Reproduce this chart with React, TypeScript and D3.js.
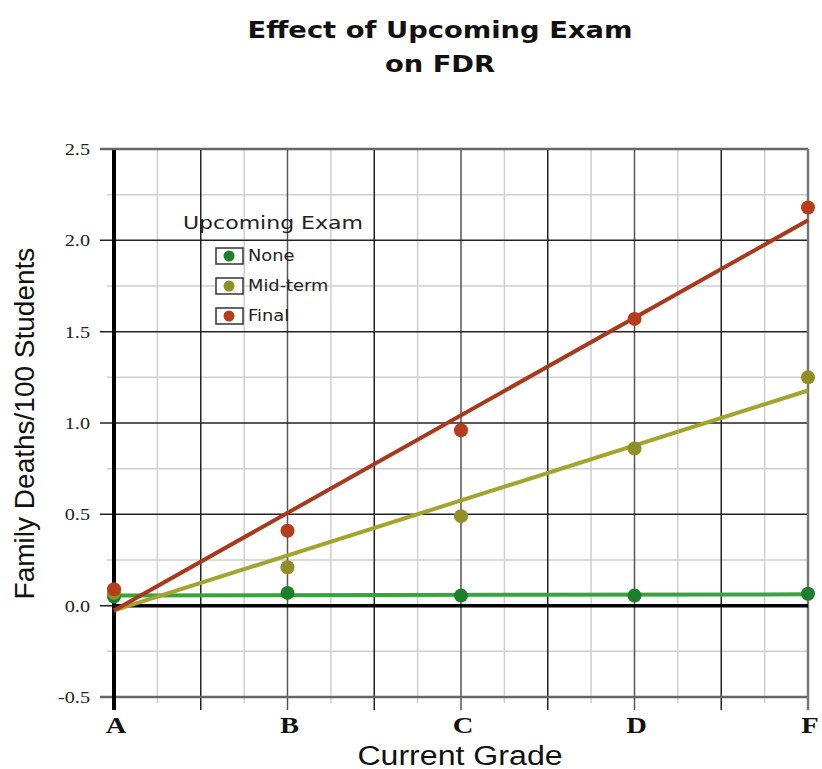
import React, { useEffect, useRef } from "react";
import * as d3 from "d3";

const grades = ["A", "B", "C", "D", "F"];
const yTicks = [-0.5, 0.0, 0.5, 1.0, 1.5, 2.0, 2.5];

const noneValues = [0.05, 0.07, 0.055, 0.055, 0.065];
const midtermValues = [0.07, 0.21, 0.49, 0.86, 1.25];
const finalValues = [0.09, 0.41, 0.96, 1.57, 2.18];

const seriesNames = ["None", "Mid-term", "Final"];

interface Series {
  name: string;
  values: number[];
  dot: string;
  line: string;
}

// least-squares fit, like the trend lines in the original
function fitLine(values: number[]) {
  const xs = values.map((_, i) => i);
  const mx = d3.mean(xs) as number;
  const my = d3.mean(values) as number;
  const num = d3.sum(xs, (x, i) => (x - mx) * (values[i] - my));
  const den = d3.sum(xs, x => (x - mx) * (x - mx));
  const slope = num / den;
  return { slope, intercept: my - slope * mx };
}

// the original's text is a bit wider than our fonts
const STRETCH = 1.19;

export default function App() {
  const svgRef = useRef<SVGSVGElement>(null);

  useEffect(() => {
    if (!svgRef.current) return;
    const width = 822;
    const height = 769;
    const margin = { top: 149, right: 14, bottom: 72, left: 114 };

    const svg = d3.select(svgRef.current);
    svg.selectAll("*").remove();

    const series: Series[] = [
      { name: seriesNames[0], values: noneValues, dot: "#1b7f2b", line: "#36a53c" },
      { name: seriesNames[1], values: midtermValues, dot: "#8f8f24", line: "#a3a32e" },
      { name: seriesNames[2], values: finalValues, dot: "#b53d1c", line: "#a8391c" },
    ];

    const x = d3.scaleLinear()
      .domain([0, grades.length - 1])
      .range([margin.left, width - margin.right]);
    const y = d3.scaleLinear()
      .domain([-0.5, 2.5])
      .range([height - margin.bottom, margin.top]);

    const x0 = x(0), x1 = x(grades.length - 1);
    const y0 = y(-0.5), y1 = y(2.5);

    const grid = svg.append("g");

    // minor grid (every 0.25)
    d3.range(0.25, 4, 0.5).forEach(v => {
      grid.append("line")
        .attr("x1", x(v)).attr("x2", x(v))
        .attr("y1", y1).attr("y2", y0 + 6)
        .attr("stroke", "#cfcfcf").attr("stroke-width", 1.5);
    });
    d3.range(-0.25, 2.5, 0.5).forEach(v => {
      grid.append("line")
        .attr("x1", x0 - 7).attr("x2", x1)
        .attr("y1", y(v)).attr("y2", y(v))
        .attr("stroke", "#cfcfcf").attr("stroke-width", 1.5);
    });

    // major vertical grid (every 0.5)
    d3.range(0.5, 4, 0.5).forEach(v => {
      const onGrade = Number.isInteger(v);
      grid.append("line")
        .attr("x1", x(v)).attr("x2", x(v))
        .attr("y1", y1).attr("y2", y0 + 13)
        .attr("stroke", onGrade ? "#555" : "#222")
        .attr("stroke-width", 1.5);
    });

    // major horizontal grid
    yTicks.forEach(v => {
      const edge = v === -0.5 || v === 2.5;
      grid.append("line")
        .attr("x1", x0 - 14).attr("x2", x1)
        .attr("y1", y(v)).attr("y2", y(v))
        .attr("stroke", edge ? "#666" : "#222")
        .attr("stroke-width", edge ? 2.5 : 1.5);
    });

    // right border at F
    grid.append("line")
      .attr("x1", x1).attr("x2", x1)
      .attr("y1", y1).attr("y2", y0 + 13)
      .attr("stroke", "#777").attr("stroke-width", 2.5);

    // zero line and left axis
    grid.append("line")
      .attr("x1", x0).attr("x2", x1)
      .attr("y1", y(0)).attr("y2", y(0))
      .attr("stroke", "#000").attr("stroke-width", 3.5);
    grid.append("line")
      .attr("x1", x0).attr("x2", x0)
      .attr("y1", y1 + 1).attr("y2", y0 + 13)
      .attr("stroke", "#000").attr("stroke-width", 4);

    // y tick labels
    svg.append("g").selectAll("text")
      .data(yTicks)
      .join("text")
      .attr("transform", d => `translate(${x0 - 24}, ${y(d) + 6}) scale(${STRETCH}, 1)`)
      .attr("text-anchor", "end")
      .attr("font-family", "Liberation Serif, serif")
      .attr("font-size", 17)
      .attr("fill", "#222")
      .text(d => d3.format(".1f")(d).replace("−", "-"));

    // x tick labels
    svg.append("g").selectAll("text")
      .data(grades)
      .join("text")
      .attr("transform", (_, i) => `translate(${x(i) + 2}, ${y0 + 36}) scale(${STRETCH}, 1)`)
      .attr("text-anchor", "middle")
      .attr("font-family", "Liberation Serif, serif")
      .attr("font-weight", "bold")
      .attr("font-size", 24)
      .attr("fill", "#111")
      .text(d => d);

    // fit lines
    series.forEach(s => {
      const { slope, intercept } = fitLine(s.values);
      svg.append("line")
        .attr("x1", x(0)).attr("y1", y(intercept))
        .attr("x2", x(grades.length - 1))
        .attr("y2", y(intercept + slope * (grades.length - 1)))
        .attr("stroke", s.line)
        .attr("stroke-width", 4);
    });

    // points
    series.forEach(s => {
      svg.append("g").selectAll("circle")
        .data(s.values)
        .join("circle")
        .attr("cx", (_, i) => x(i))
        .attr("cy", d => y(d))
        .attr("r", 7)
        .attr("fill", s.dot);
    });

    // legend
    const legend = svg.append("g");
    legend.append("text")
      .attr("transform", `translate(183, 229) scale(${STRETCH}, 1)`)
      .attr("font-family", "DejaVu Sans, sans-serif")
      .attr("font-size", 18.5)
      .attr("fill", "#222")
      .text("Upcoming Exam");
    series.forEach((s, i) => {
      const ly = 256 + i * 30;
      legend.append("rect")
        .attr("x", 216).attr("y", ly - 8)
        .attr("width", 27).attr("height", 16)
        .attr("fill", "#fff")
        .attr("stroke", "#333").attr("stroke-width", 1.5);
      legend.append("circle")
        .attr("cx", 229).attr("cy", ly)
        .attr("r", 5.5)
        .attr("fill", s.dot);
      legend.append("text")
        .attr("transform", `translate(248, ${ly + 5}) scale(${STRETCH}, 1)`)
        .attr("font-family", "DejaVu Sans, sans-serif")
        .attr("font-size", 15)
        .attr("fill", "#222")
        .text(s.name);
    });

    // title
    const titleLines = ["Effect of Upcoming Exam", "on FDR"];
    titleLines.forEach((t, i) => {
      svg.append("text")
        .attr("transform", `translate(440, ${38 + i * 34}) scale(${STRETCH}, 1)`)
        .attr("text-anchor", "middle")
        .attr("font-family", "DejaVu Sans, sans-serif")
        .attr("font-weight", "bold")
        .attr("font-size", 23)
        .attr("fill", "#111")
        .text(t);
    });

    // axis titles
    svg.append("text")
      .attr("transform", `translate(460, 765) scale(${STRETCH}, 1)`)
      .attr("text-anchor", "middle")
      .attr("font-family", "Liberation Sans, Arial, sans-serif")
      .attr("font-size", 27)
      .attr("fill", "#111")
      .text("Current Grade");
    svg.append("text")
      .attr("transform", `translate(34, ${(245 + 602) / 2}) rotate(-90)`)
      .attr("text-anchor", "middle")
      .attr("font-family", "Liberation Sans, Arial, sans-serif")
      .attr("font-size", 28)
      .attr("fill", "#111")
      .text("Family Deaths/100  Students");
  }, []);

  return (
    <svg
      ref={svgRef}
      width={822}
      height={769}
      style={{ position: "absolute", left: 0, top: 0, background: "#fff" }}
    />
  );
}
